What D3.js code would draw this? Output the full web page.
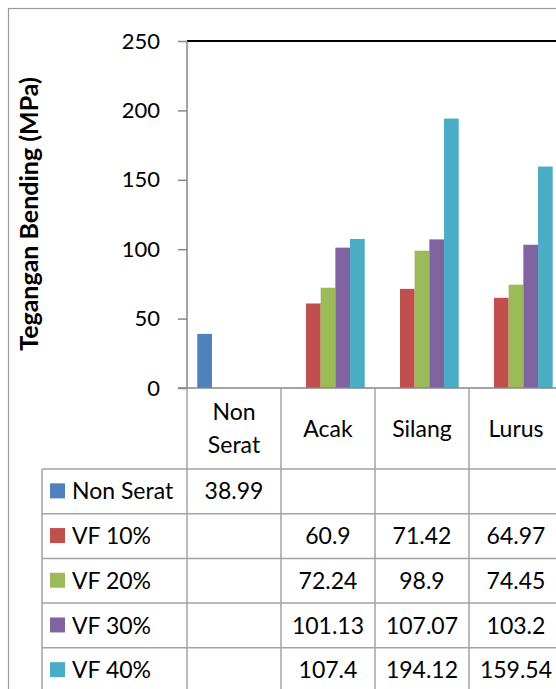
<!DOCTYPE html>
<html>
<head>
<meta charset="utf-8">
<script src="https://cdn.jsdelivr.net/npm/d3@7"></script>
<style>
  html, body { margin: 0; padding: 0; background: #fff; overflow: hidden; }
  svg { display: block; font-family: Lato, "Liberation Sans", sans-serif; }
</style>
</head>
<body>
<svg id="chart" width="556" height="689"></svg>
<script>
// Bending stress by fibre orientation and fibre volume fraction
const categories = ["Non Serat", "Acak", "Silang", "Lurus"];
const seriesNames = ["Non Serat", "VF 10%", "VF 20%", "VF 30%", "VF 40%"];
const nonSerat = [38.99, null, null, null];
const vf10 = [null, 60.9, 71.42, 64.97];
const vf20 = [null, 72.24, 98.9, 74.45];
const vf30 = [null, 101.13, 107.07, 103.2];
const vf40 = [null, 107.4, 194.12, 159.54];
const yTicks = [0, 50, 100, 150, 200, 250];
const colors = ["#4F81BD", "#C0504D", "#9BBB59", "#8064A2", "#4BACC6"];
const yTitle = "Tegangan Bending (MPa)";

const seriesValues = [nonSerat, vf10, vf20, vf30, vf40];

const svg = d3.select("#chart");
const gridColor = "#a3a3a3";
const axisColor = "#868686";
const fontSize = 23;

// geometry
const plotLeft = 187, plotTop = 41, plotBottom = 388;
const bandW = 94;
const plotRight = plotLeft + bandW * categories.length;
const rowH = 44.7;
const headerBottom = 469;
const legendLeft = 42;

const x = d3.scaleBand().domain(categories).range([plotLeft, plotRight]).paddingInner(0).paddingOuter(0);
const xs = d3.scaleBand().domain(seriesNames).range([0, x.bandwidth()]).paddingInner(0).paddingOuter(0.7);
const y = d3.scaleLinear().domain([0, 250]).range([plotBottom, plotTop]);

// outer chart frame
svg.append("rect")
  .attr("x", 8.5).attr("y", 8.5).attr("width", 700).attr("height", 800)
  .attr("fill", "#fff").attr("stroke", "#9a9a9a").attr("stroke-width", 1.2);

// top edge of plot area
svg.append("line")
  .attr("x1", plotLeft).attr("x2", plotRight + 20)
  .attr("y1", y(250)).attr("y2", y(250))
  .attr("stroke", "#000").attr("stroke-width", 2);

// bars
seriesValues.forEach((vals, si) => {
  svg.append("g").selectAll("rect")
    .data(categories.map((c, i) => ({ c, v: vals[i] })).filter(d => d.v != null))
    .join("rect")
    .attr("x", d => x(d.c) + xs(seriesNames[si]))
    .attr("width", xs.bandwidth())
    .attr("y", d => y(d.v))
    .attr("height", d => y(0) - y(d.v))
    .attr("fill", colors[si]);
});

// y axis
const yAxis = d3.axisLeft(y).tickValues(yTicks).tickSize(9).tickPadding(18);
const gy = svg.append("g").attr("transform", `translate(${plotLeft},0)`).call(yAxis);
gy.select(".domain").attr("stroke", axisColor).attr("stroke-width", 1.5).attr("d", `M0,${plotTop}V${plotBottom}`);
gy.selectAll(".tick line").attr("stroke", axisColor).attr("stroke-width", 1.5);
gy.selectAll(".tick text").attr("font-family", "Lato, sans-serif").attr("font-size", 22).attr("fill", "#000");

// y axis title
svg.append("text")
  .attr("transform", `translate(38,214) rotate(-90)`)
  .attr("text-anchor", "middle")
  .attr("font-size", 25).attr("font-weight", "bold").attr("fill", "#000")
  .text(yTitle);

// x axis line (top of data table)
svg.append("line")
  .attr("x1", plotLeft - 9).attr("x2", plotRight + 20)
  .attr("y1", plotBottom).attr("y2", plotBottom)
  .attr("stroke", axisColor).attr("stroke-width", 1.5);

// data table grid
const tableBottom = headerBottom + rowH * seriesNames.length;
const grid = svg.append("g").attr("stroke", gridColor).attr("stroke-width", 1.5);
[plotLeft].concat(categories.map(c => x(c) + x.bandwidth())).forEach(xv => {
  grid.append("line").attr("x1", xv).attr("x2", xv).attr("y1", plotBottom).attr("y2", tableBottom);
});
grid.append("line").attr("x1", legendLeft).attr("x2", legendLeft).attr("y1", headerBottom).attr("y2", tableBottom);
d3.range(seriesNames.length + 1).forEach(k => {
  const yy = headerBottom + k * rowH;
  grid.append("line").attr("x1", legendLeft).attr("x2", plotRight + 20).attr("y1", yy).attr("y2", yy);
});

// category headers
const hdr = svg.append("g").attr("font-size", fontSize).attr("fill", "#000").attr("text-anchor", "middle");
categories.forEach(c => {
  const cx = x(c) + x.bandwidth() / 2;
  const words = c.split(" ");
  const lineGap = 33;
  const cy = (plotBottom + headerBottom) / 2;
  words.forEach((w, i) => {
    hdr.append("text")
      .attr("x", cx)
      .attr("y", cy + (i - (words.length - 1) / 2) * lineGap)
      .attr("dy", "0.35em")
      .text(w);
  });
});

// legend column and values
seriesNames.forEach((name, si) => {
  const rowCy = headerBottom + si * rowH + rowH / 2;
  svg.append("rect")
    .attr("x", 50).attr("y", rowCy - 8).attr("width", 15).attr("height", 15)
    .attr("fill", colors[si]);
  svg.append("text")
    .attr("x", 72).attr("y", rowCy).attr("dy", "0.35em")
    .attr("font-size", fontSize).attr("fill", "#000")
    .text(name);
  categories.forEach((c, ci) => {
    const v = seriesValues[si][ci];
    if (v == null) return;
    svg.append("text")
      .attr("x", x(c) + x.bandwidth() / 2).attr("y", rowCy).attr("dy", "0.35em")
      .attr("text-anchor", "middle").attr("font-size", fontSize).attr("fill", "#000")
      .text(String(v));
  });
});
</script>
</body>
</html>
